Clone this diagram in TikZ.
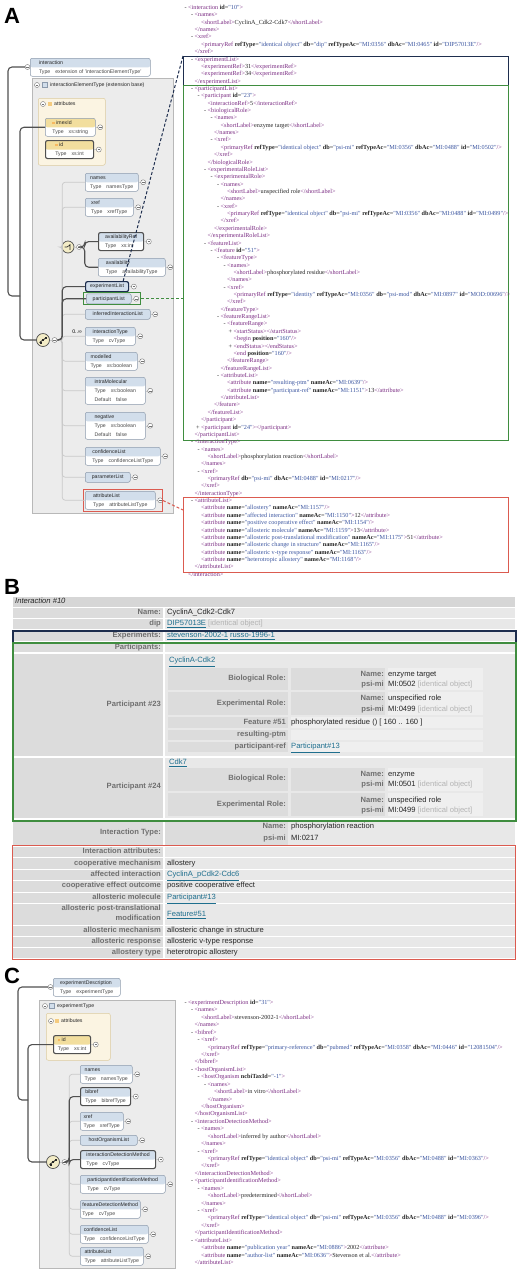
\documentclass[tikz,border=0pt]{standalone}
\usepackage{fontspec}
\setmainfont{Liberation Sans}
\newfontfamily\xmlfont{Liberation Serif}
\usetikzlibrary{positioning}
\definecolor{eline}{HTML}{8C9AAC}
\definecolor{ehead}{HTML}{D2DEEB}
\definecolor{ahead}{HTML}{F2DE9E}
\definecolor{abox}{HTML}{FBF4E2}
\definecolor{aline}{HTML}{DCCBA0}
\definecolor{cfill}{HTML}{ECECEC}
\definecolor{cline}{HTML}{B8B8B8}
\definecolor{tline}{HTML}{C9C9C9}
\definecolor{hline}{HTML}{505050}
\definecolor{cyel}{HTML}{F3ECC6}
\definecolor{tgrey}{HTML}{4A4A4A}
\definecolor{cnavy}{HTML}{1E2E4E}
\definecolor{cgreen}{HTML}{3F8D3F}
\definecolor{cred}{HTML}{DB5B50}
\definecolor{xtag}{HTML}{7B2C83}
\definecolor{xval}{HTML}{3B55A0}
\definecolor{hcell}{HTML}{D6D6D6}
\definecolor{lcell}{HTML}{DCDCDC}
\definecolor{vcell}{HTML}{E8E8E8}
\definecolor{wcell}{HTML}{EFEFEF}
\definecolor{blab}{HTML}{6F6F6F}
\definecolor{blink}{HTML}{1F6F8E}
\definecolor{bgrey}{HTML}{B3B3B3}
\definecolor{cink}{HTML}{262626}
\newcommand{\schfont}{\fontsize{5.2}{9}\selectfont}
\newcommand{\bfnt}{\fontsize{7.6}{8.4}\selectfont}
\newcommand{\hd}[1]{\rule{0pt}{4.2pt}#1}
\newcommand{\tp}[1]{\\\textcolor{tgrey}{Type\hspace{5pt}#1}\rule[-1.5pt]{0pt}{1.5pt}}
\newcommand{\df}[1]{\\\textcolor{tgrey}{Default\hspace{5pt}#1}\rule[-1.5pt]{0pt}{1.5pt}}
\newcommand{\aic}{\textcolor{ahead!60!orange}{\rule{2.4pt}{2.4pt}}\hspace{1.5pt}}
\newcommand{\tg}[1]{\textcolor{xtag}{<#1>}}
\newcommand{\tc}[1]{\textcolor{xtag}{</#1>}}
\newcommand{\tgo}[1]{\textcolor{xtag}{<#1}}
\newcommand{\tge}{\textcolor{xtag}{/>}}
\newcommand{\tgc}{\textcolor{xtag}{>}}
\newcommand{\av}[2]{ \textbf{#1}=\textcolor{xval}{"#2"}}
\newcommand{\mkm}{\llap{-\ }}
\newcommand{\mkp}{\llap{+\ }}
\newcommand{\xl}[3]{\node[xmlt] (xa#1) at ({188+6.5*#2},{8+7.36*(#1-1)}) {#3};}
\newcommand{\xc}[3]{\node[xmlt] (xc#1) at ({188+6.5*#2},{1003+7.43*(#1-1)}) {#3};}
\newcommand{\pl}[1]{\draw[tline,line width=0.5pt] (#1.east) -- ++(2,0) node[plug,anchor=west] (#1p) {};}
\newcommand{\lk}[1]{\textcolor{blink}{\underline{#1}}}
\newcommand{\io}{\textcolor{bgrey}{[identical object]}}
\newcommand{\brow}[2]{\fill[lcell] (13,#1) rectangle (163,#2); \fill[vcell] (165,#1) rectangle (515,#2);}
\tikzset{
  plab/.style={font=\bfseries\fontsize{22}{22}\selectfont,anchor=north west,inner sep=0},
  elem/.style={draw=eline,fill=white,rounded corners=2pt,anchor=north west,align=left,
    font=\schfont,text=cink,inner xsep=2.2pt,inner ysep=1.6pt,minimum height=18pt,line width=0.5pt,
    path picture={\fill[ehead] (path picture bounding box.north west) rectangle ([yshift=-9pt]path picture bounding box.north east);}},
  el1/.style={elem,fill=ehead,minimum height=10pt,path picture={}},
  attr/.style={elem,path picture={\fill[ahead] (path picture bounding box.north west) rectangle ([yshift=-9pt]path picture bounding box.north east);}},
  sel/.style={draw=hline,line width=1.1pt},
  plug/.style={circle,draw=hline!80,fill=white,minimum size=5pt,inner sep=0,line width=0.4pt,
    path picture={\draw[line width=0.4pt] ([xshift=-1.3pt]path picture bounding box.center) -- ([xshift=1.3pt]path picture bounding box.center);}},
  cont/.style={draw=cline,fill=cfill,anchor=north west,inner sep=0,line width=0.5pt},
  atbox/.style={draw=aline,fill=abox,rounded corners=2pt,anchor=north west,inner sep=0,line width=0.5pt},
  icn/.style={draw=eline,fill=ehead,minimum size=5pt,inner sep=0,line width=0.4pt},
  aicn/.style={fill=ahead!80!orange,minimum size=3.5pt,inner sep=0},
  hdtxt/.style={font=\schfont,anchor=west,inner sep=0,text=cink},
  seq/.style={circle,draw=hline,line width=0.7pt,fill=cyel,minimum size=13pt,inner sep=0,
    path picture={\draw[cink,line width=0.8pt] ([shift={(-3.5pt,-2.5pt)}]path picture bounding box.center) -- ([shift={(3.5pt,2.5pt)}]path picture bounding box.center);
      \fill[cink] ([shift={(-3.5pt,-3.5pt)}]path picture bounding box.center) rectangle ([shift={(-1.5pt,-1.5pt)}]path picture bounding box.center);
      \fill[cink] ([shift={(-1pt,-1pt)}]path picture bounding box.center) rectangle ([shift={(1pt,1pt)}]path picture bounding box.center);
      \fill[cink] ([shift={(1.5pt,1.5pt)}]path picture bounding box.center) rectangle ([shift={(3.5pt,3.5pt)}]path picture bounding box.center);}},
  choice/.style={circle,draw=hline,line width=0.7pt,fill=cyel,minimum size=12pt,inner sep=0,
    path picture={\draw[cink,line width=0.6pt] ([shift={(-3.5pt,0pt)}]path picture bounding box.center) -- ([shift={(-1pt,0pt)}]path picture bounding box.center) -- ([shift={(2pt,2pt)}]path picture bounding box.center)
      ([shift={(2pt,2.8pt)}]path picture bounding box.center) -- ([shift={(2pt,-2.8pt)}]path picture bounding box.center);}},
  tree/.style={draw=tline,line width=0.7pt,rounded corners=3pt},
  hl/.style={draw=hline,line width=1.1pt,rounded corners=4pt},
  xhl/.style={anchor=north west,inner sep=0,line width=0.9pt},
  dsh/.style={line width=1pt,dash pattern=on 3pt off 2pt},
  xmlt/.style={anchor=west,inner sep=0,font=\xmlfont\fontsize{6.2}{7}\selectfont,text=cink,text height=4.3pt,text depth=1.3pt},
  bl/.style={anchor=east,inner sep=0,font=\bfnt\bfseries,text=blab,text height=5.4pt,text depth=1.6pt},
  bv/.style={anchor=west,inner sep=0,font=\bfnt,text=cink,text height=5.4pt,text depth=1.6pt},
}
\begin{document}
\begin{tikzpicture}[x=1pt,y=-1pt]
  \useasboundingbox (0,0) rectangle (520,1275);
  \fill[white] (0,0) rectangle (520,1275);

  % ---------------- A
  \node[plab] (labA) at (4,8) {A};
  \node[xhl,draw=cnavy,minimum width=325pt,minimum height=29pt] (xExp) at (183,56) {};
  \node[xhl,draw=cgreen,minimum width=325pt,minimum height=355pt] (xPart) at (183,85) {};
  \node[xhl,draw=cred,minimum width=325pt,minimum height=75pt] (xAttr) at (183,497) {};

  \node[elem,minimum width=120pt] (interactionA) at (30,58) {\hd{interaction}\tp{extension of 'interactionElementType'}};
  \node[plug] (interactionAq) at (27.5,67) {};
  \node[cont,minimum width=141pt,minimum height=435pt] (ctA) at (32,78) {};
  \node[plug] (ctAq) at (37,85) {};
  \node[icn] (ctAi) at (45,85) {};
  \node[hdtxt] (ctAt) at (50,85) {interactionElementType (extension base)};
  \node[atbox,minimum width=67pt,minimum height=67pt] (atA) at (38,98) {};
  \node[plug] (atAq) at (43,104) {};
  \node[aicn] (atAi) at (50,104) {};
  \node[hdtxt] (atAt) at (54,104) {attributes};
  \node[attr,minimum width=50pt] (imexIdA) at (45,118) {\hd{\aic imexId}\tp{xs:string}};
  \pl{imexIdA}
  \node[attr,sel,minimum width=48pt] (idA) at (45,140) {\hd{\aic id}\tp{xs:int}};
  \pl{idA}

  \node[elem,minimum width=53pt] (namesA) at (85,173) {\hd{names}\tp{namesType}};
  \node[elem,minimum width=48pt] (xrefA) at (85,198) {\hd{xref}\tp{xrefType}};
  \node[choice] (chA) at (68,247) {};
  \node[elem,sel,minimum width=45pt] (avRefA) at (98,232) {\hd{availabilityRef}\tp{xs:int}};
  \node[elem,minimum width=67pt] (avA) at (98,258) {\hd{availability}\tp{availabilityType}};
  \node[el1,draw=cnavy,line width=1.2pt,minimum width=43pt] (expListA) at (85,281) {\hd{experimentList}\rule[-1.5pt]{0pt}{1.5pt}};
  \node[el1,minimum width=45pt] (partListA) at (86,293.5) {\hd{participantList}\rule[-1.5pt]{0pt}{1.5pt}};
  \node[el1,minimum width=65pt] (infListA) at (85,309) {\hd{inferredInteractionList}\rule[-1.5pt]{0pt}{1.5pt}};
  \node[seq] (seqA) at (43,340) {};
  \node[elem,minimum width=50pt] (itypeA) at (85,327) {\hd{interactionType}\tp{cvType}};
  \node[font=\schfont,anchor=east,inner sep=0] (cardA) at (82,332) {0..∞};
  \node[elem,minimum width=52pt] (modA) at (85,352) {\hd{modelled}\tp{xs:boolean}};
  \node[elem,minimum width=60pt,minimum height=27pt] (intraA) at (85,377) {\hd{intraMolecular}\tp{xs:boolean}\df{false}};
  \node[elem,minimum width=60pt,minimum height=27pt] (negA) at (85,412) {\hd{negative}\tp{xs:boolean}\df{false}};
  \node[elem,minimum width=75pt] (confA) at (85,447) {\hd{confidenceList}\tp{confidenceListType}};
  \node[el1,minimum width=45pt] (parA) at (85,472) {\hd{parameterList}\rule[-1.5pt]{0pt}{1.5pt}};
  \node[elem,minimum width=70pt] (attrA) at (85,491) {\hd{attributeList}\tp{attributeListType}};
  \foreach \n in {namesA,xrefA,avRefA,avA,expListA,partListA,infListA,seqA,chA,itypeA,modA,intraA,negA,confA,parA,attrA} {\pl{\n}}
  \node[xhl,draw=cgreen,line width=1pt,minimum width=57pt,minimum height=12pt] (partHL) at (83,292) {};
  \node[xhl,draw=cred,line width=1pt,minimum width=79pt,minimum height=22pt] (attrHL) at (83,489) {};

  \foreach \n in {namesA,xrefA,chA,infListA,itypeA,modA,intraA,negA,confA,parA,attrA}
    \draw[tree] (seqAp.east) -- ++(5,0) |- (\n.west);
  \coordinate (jA) at (20,296);
  \draw[hl] (interactionAq.west) -| (8,296) -- (jA);
  \draw[hl] (imexIdA.west) -| (jA) |- (seqA.west);
  \draw[hl] (seqAp.east) -- ++(5,0) |- (expListA.west);
  \draw[hl] (seqAp.east) -- ++(5,0) |- (partListA.west);
  \draw[hl] (chAp.east) -- ++(3,0) |- (avRefA.west);
  \draw[hl] (chAp.east) -- ++(3,0) |- (avA.west);

  \draw[cnavy,dsh] (xExp.north west) -- ([xshift=-6pt]expListA.north east);
  \draw[cgreen,dsh] (partHL.east) -- (partHL.east -| xPart.west);
  \draw[cred,dsh] (attrHL.east) -- ([yshift=-13pt]xAttr.north west);

  \xl{1}{0}{\mkm\tgo{interaction}\av{id}{10}\tgc}
  \xl{2}{1}{\mkm\tg{names}}
  \xl{3}{2}{\tg{shortLabel}CyclinA\_Cdk2-Cdk7\tc{shortLabel}}
  \xl{4}{1}{\tc{names}}
  \xl{5}{1}{\mkm\tg{xref}}
  \xl{6}{2}{\tgo{primaryRef}\av{refType}{identical object}\av{db}{dip}\av{refTypeAc}{MI:0356}\av{dbAc}{MI:0465}\av{id}{DIP57013E}\tge}
  \xl{7}{1}{\tc{xref}}
  \xl{8}{1}{\mkm\tg{experimentList}}
  \xl{9}{2}{\tg{experimentRef}31\tc{experimentRef}}
  \xl{10}{2}{\tg{experimentRef}34\tc{experimentRef}}
  \xl{11}{1}{\tc{experimentList}}
  \xl{12}{1}{\mkm\tg{participantList}}
  \xl{13}{2}{\mkm\tgo{participant}\av{id}{23}\tgc}
  \xl{14}{3}{\tg{interactionRef}5\tc{interactionRef}}
  \xl{15}{3}{\mkm\tg{biologicalRole}}
  \xl{16}{4}{\mkm\tg{names}}
  \xl{17}{5}{\tg{shortLabel}enzyme target\tc{shortLabel}}
  \xl{18}{4}{\tc{names}}
  \xl{19}{4}{\mkm\tg{xref}}
  \xl{20}{5}{\tgo{primaryRef}\av{refType}{identical object}\av{db}{psi-mi}\av{refTypeAc}{MI:0356}\av{dbAc}{MI:0488}\av{id}{MI:0502}\tge}
  \xl{21}{4}{\tc{xref}}
  \xl{22}{3}{\tc{biologicalRole}}
  \xl{23}{3}{\mkm\tg{experimentalRoleList}}
  \xl{24}{4}{\mkm\tg{experimentalRole}}
  \xl{25}{5}{\mkm\tg{names}}
  \xl{26}{6}{\tg{shortLabel}unspecified role\tc{shortLabel}}
  \xl{27}{5}{\tc{names}}
  \xl{28}{5}{\mkm\tg{xref}}
  \xl{29}{6}{\tgo{primaryRef}\av{refType}{identical object}\av{db}{psi-mi}\av{refTypeAc}{MI:0356}\av{dbAc}{MI:0488}\av{id}{MI:0499}\tge}
  \xl{30}{5}{\tc{xref}}
  \xl{31}{4}{\tc{experimentalRole}}
  \xl{32}{3}{\tc{experimentalRoleList}}
  \xl{33}{3}{\mkm\tg{featureList}}
  \xl{34}{4}{\mkm\tgo{feature}\av{id}{51}\tgc}
  \xl{35}{5}{\mkm\tg{featureType}}
  \xl{36}{6}{\mkm\tg{names}}
  \xl{37}{7}{\tg{shortLabel}phosphorylated residue\tc{shortLabel}}
  \xl{38}{6}{\tc{names}}
  \xl{39}{6}{\mkm\tg{xref}}
  \xl{40}{7}{\tgo{primaryRef}\av{refType}{identity}\av{refTypeAc}{MI:0356}\av{db}{psi-mod}\av{dbAc}{MI:0897}\av{id}{MOD:00696}\tge}
  \xl{41}{6}{\tc{xref}}
  \xl{42}{5}{\tc{featureType}}
  \xl{43}{5}{\mkm\tg{featureRangeList}}
  \xl{44}{6}{\mkm\tg{featureRange}}
  \xl{45}{7}{\mkp\tg{startStatus}\tc{startStatus}}
  \xl{46}{7}{\tgo{begin}\av{position}{160}\tge}
  \xl{47}{7}{\mkp\tg{endStatus}\tc{endStatus}}
  \xl{48}{7}{\tgo{end}\av{position}{160}\tge}
  \xl{49}{6}{\tc{featureRange}}
  \xl{50}{5}{\tc{featureRangeList}}
  \xl{51}{5}{\mkm\tg{attributeList}}
  \xl{52}{6}{\tgo{attribute}\av{name}{resulting-ptm}\av{nameAc}{MI:0639}\tge}
  \xl{53}{6}{\tgo{attribute}\av{name}{participant-ref}\av{nameAc}{MI:1151}\tgc13\tc{attribute}}
  \xl{54}{5}{\tc{attributeList}}
  \xl{55}{4}{\tc{feature}}
  \xl{56}{3}{\tc{featureList}}
  \xl{57}{2}{\tc{participant}}
  \xl{58}{2}{\mkp\tgo{participant}\av{id}{24}\tgc\tc{participant}}
  \xl{59}{1}{\tc{participantList}}
  \xl{60}{1}{\mkm\tg{interactionType}}
  \xl{61}{2}{\mkm\tg{names}}
  \xl{62}{3}{\tg{shortLabel}phosphorylation reaction\tc{shortLabel}}
  \xl{63}{2}{\tc{names}}
  \xl{64}{2}{\mkm\tg{xref}}
  \xl{65}{3}{\tgo{primaryRef}\av{db}{psi-mi}\av{dbAc}{MI:0488}\av{id}{MI:0217}\tge}
  \xl{66}{2}{\tc{xref}}
  \xl{67}{1}{\tc{interactionType}}
  \xl{68}{1}{\mkm\tg{attributeList}}
  \xl{69}{2}{\tgo{attribute}\av{name}{allostery}\av{nameAc}{MI:1157}\tge}
  \xl{70}{2}{\tgo{attribute}\av{name}{affected interaction}\av{nameAc}{MI:1150}\tgc12\tc{attribute}}
  \xl{71}{2}{\tgo{attribute}\av{name}{positive cooperative effect}\av{nameAc}{MI:1154}\tge}
  \xl{72}{2}{\tgo{attribute}\av{name}{allosteric molecule}\av{nameAc}{MI:1159}\tgc13\tc{attribute}}
  \xl{73}{2}{\tgo{attribute}\av{name}{allosteric post-translational modification}\av{nameAc}{MI:1175}\tgc51\tc{attribute}}
  \xl{74}{2}{\tgo{attribute}\av{name}{allosteric change in structure}\av{nameAc}{MI:1165}\tge}
  \xl{75}{2}{\tgo{attribute}\av{name}{allosteric v-type response}\av{nameAc}{MI:1163}\tge}
  \xl{76}{2}{\tgo{attribute}\av{name}{heterotropic allostery}\av{nameAc}{MI:1168}\tge}
  \xl{77}{1}{\tc{attributeList}}
  \xl{78}{0}{\tc{interaction}}

  % ---------------- B
  \node[plab] (labB) at (4,579) {B};
  \fill[hcell] (13,597) rectangle (515,607);
  \brow{608}{618} \brow{619}{629} \brow{631}{641} \brow{643}{652}
  \brow{654}{756} \brow{758}{818} \brow{822}{845}
  \brow{847}{857} \brow{858}{869} \brow{870}{880} \brow{881}{892} \brow{893}{903}
  \brow{904}{925} \brow{926}{936} \brow{937}{947} \brow{948}{958}
  \foreach \a/\b in {668/690,692/715,768/791,793/816} {
    \fill[lcell] (168,\a) rectangle (288,\b);
    \fill[lcell] (291,\a) rectangle (385,\b);
    \fill[wcell] (388,\a) rectangle (483,\b);}
  \foreach \a/\b in {717/728,730/740,742/752} {
    \fill[lcell] (168,\a) rectangle (288,\b);
    \fill[wcell] (291,\a) rectangle (483,\b);}
  \fill[lcell] (165,822) rectangle (288,845);

  \node[bv,font=\bfnt\itshape] (b0) at (15,602) {Interaction \#10};
  \node[bl] (b1) at (161,613) {Name:};
  \node[bv] (b1v) at (167,613) {CyclinA\_Cdk2-Cdk7};
  \node[bl] (b2) at (161,624) {dip};
  \node[bv] (b2v) at (167,624) {\lk{DIP57013E} \io};
  \node[bl] (b3) at (161,636) {Experiments:};
  \node[bv] (b3v) at (167,636) {\lk{stevenson-2002-1} \lk{russo-1996-1}};
  \node[bl] (b4) at (161,648) {Participants:};
  \node[bl] (b5) at (161,705) {Participant \#23};
  \node[bv] (b5v) at (169,661) {\lk{CyclinA-Cdk2}};
  \node[bl] (b6) at (286,679) {Biological Role:};
  \node[bl] (b6a) at (384,675) {Name:};
  \node[bv] (b6b) at (388,675) {enzyme target};
  \node[bl] (b6c) at (384,685) {psi-mi};
  \node[bv] (b6d) at (388,685) {MI:0502 \io};
  \node[bl] (b7) at (286,704) {Experimental Role:};
  \node[bl] (b7a) at (384,699) {Name:};
  \node[bv] (b7b) at (388,699) {unspecified role};
  \node[bl] (b7c) at (384,710) {psi-mi};
  \node[bv] (b7d) at (388,710) {MI:0499 \io};
  \node[bl] (b8) at (286,723) {Feature \#51};
  \node[bv] (b8v) at (291,723) {phosphorylated residue () [ 160 .. 160 ]};
  \node[bl] (b9) at (286,735) {resulting-ptm};
  \node[bl] (b10) at (286,747) {participant-ref};
  \node[bv] (b10v) at (291,747) {\lk{Participant\#13}};
  \node[bl] (b11) at (161,787) {Participant \#24};
  \node[bv] (b11v) at (169,763) {\lk{Cdk7}};
  \node[bl] (b12) at (286,779) {Biological Role:};
  \node[bl] (b12a) at (384,775) {Name:};
  \node[bv] (b12b) at (388,775) {enzyme};
  \node[bl] (b12c) at (384,785) {psi-mi};
  \node[bv] (b12d) at (388,785) {MI:0501 \io};
  \node[bl] (b13) at (286,805) {Experimental Role:};
  \node[bl] (b13a) at (384,801) {Name:};
  \node[bv] (b13b) at (388,801) {unspecified role};
  \node[bl] (b13c) at (384,811) {psi-mi};
  \node[bv] (b13d) at (388,811) {MI:0499 \io};
  \node[bl] (b14) at (161,833) {Interaction Type:};
  \node[bl] (b14a) at (286,827) {Name:};
  \node[bv] (b14b) at (291,827) {phosphorylation reaction};
  \node[bl] (b14c) at (286,839) {psi-mi};
  \node[bv] (b14d) at (291,839) {MI:0217};
  \node[bl] (b15) at (161,852) {Interaction attributes:};
  \node[bl] (b16) at (161,864) {cooperative mechanism};
  \node[bv] (b16v) at (167,864) {allostery};
  \node[bl] (b17) at (161,875) {affected interaction};
  \node[bv] (b17v) at (167,875) {\lk{CyclinA\_pCdk2-Cdc6}};
  \node[bl] (b18) at (161,886) {cooperative effect outcome};
  \node[bv] (b18v) at (167,886) {positive cooperative effect};
  \node[bl] (b19) at (161,898) {allosteric molecule};
  \node[bv] (b19v) at (167,898) {\lk{Participant\#13}};
  \node[bl] (b20) at (161,909) {allosteric post-translational};
  \node[bl] (b20b) at (161,919) {modification};
  \node[bv] (b20v) at (167,915) {\lk{Feature\#51}};
  \node[bl] (b21) at (161,931) {allosteric mechanism};
  \node[bv] (b21v) at (167,931) {allosteric change in structure};
  \node[bl] (b22) at (161,942) {allosteric response};
  \node[bv] (b22v) at (167,942) {allosteric v-type response};
  \node[bl] (b23) at (161,953) {allostery type};
  \node[bv] (b23v) at (167,953) {heterotropic allostery};

  \node[xhl,draw=cnavy,line width=1.5pt,minimum width=503pt,minimum height=12pt] (bExp) at (12,630) {};
  \node[xhl,draw=cgreen,line width=1.5pt,minimum width=503pt,minimum height=178pt] (bPart) at (12,642) {};
  \node[xhl,draw=cred,line width=1.3pt,minimum width=503pt,minimum height=114pt] (bAttr) at (12,845) {};

  % ---------------- C
  \node[plab] (labC) at (4,968) {C};
  \node[elem,minimum width=67pt] (expDescC) at (53,978) {\hd{experimentDescription}\tp{experimentType}};
  \node[plug] (expDescCq) at (50.5,987) {};
  \node[cont,minimum width=136pt,minimum height=268pt] (ctC) at (39,1000) {};
  \node[plug] (ctCq) at (45,1006) {};
  \node[icn] (ctCi) at (52,1006) {};
  \node[hdtxt] (ctCt) at (57,1006) {experimentType};
  \node[atbox,minimum width=64pt,minimum height=47pt] (atC) at (46,1013) {};
  \node[plug] (atCq) at (51,1021) {};
  \node[aicn] (atCi) at (57,1021) {};
  \node[hdtxt] (atCt) at (61,1021) {attributes};
  \node[attr,sel,minimum width=37pt] (idC) at (53,1035) {\hd{\aic id}\tp{xs:int}};
  \pl{idC}
  \node[elem,minimum width=52pt] (namesC) at (80,1065) {\hd{names}\tp{namesType}};
  \node[elem,sel,minimum width=50pt] (bibrefC) at (80,1087) {\hd{bibref}\tp{bibrefType}};
  \node[elem,minimum width=43pt] (xrefC) at (80,1112) {\hd{xref}\tp{xrefType}};
  \node[el1,minimum width=57pt] (hostC) at (80,1135) {\hd{hostOrganismList}\rule[-1.5pt]{0pt}{1.5pt}};
  \node[seq] (seqC) at (53,1162) {};
  \node[elem,sel,minimum width=75pt] (idmC) at (80,1150) {\hd{interactionDetectionMethod}\tp{cvType}};
  \node[elem,minimum width=85pt] (pimC) at (80,1175) {\hd{participantIdentificationMethod}\tp{cvType}};
  \node[elem,minimum width=60pt] (fdmC) at (80,1200) {\hd{featureDetectionMethod}\tp{cvType}};
  \node[elem,minimum width=68pt] (confC) at (80,1225) {\hd{confidenceList}\tp{confidenceListType}};
  \node[elem,minimum width=63pt] (attrC) at (80,1247) {\hd{attributeList}\tp{attributeListType}};
  \foreach \n in {namesC,bibrefC,xrefC,hostC,seqC,idmC,pimC,fdmC,confC,attrC} {\pl{\n}}
  \foreach \n in {namesC,xrefC,hostC,pimC,fdmC,confC,attrC}
    \draw[tree] (seqCp.east) -- ++(2,0) |- (\n.west);
  \coordinate (jC) at (28,1100);
  \draw[hl] (expDescCq.west) -| (18,1100) -- (jC);
  \draw[hl] (idC.west) -| (jC) |- (seqC.west);
  \draw[hl] (seqCp.east) -- ++(2,0) |- (bibrefC.west);
  \draw[hl] (seqCp.east) -- ++(2,0) |- (idmC.west);

  \xc{1}{0}{\mkm\tgo{experimentDescription}\av{id}{31}\tgc}
  \xc{2}{1}{\mkm\tg{names}}
  \xc{3}{2}{\tg{shortLabel}stevenson-2002-1\tc{shortLabel}}
  \xc{4}{1}{\tc{names}}
  \xc{5}{1}{\mkm\tg{bibref}}
  \xc{6}{2}{\mkm\tg{xref}}
  \xc{7}{3}{\tgo{primaryRef}\av{refType}{primary-reference}\av{db}{pubmed}\av{refTypeAc}{MI:0358}\av{dbAc}{MI:0446}\av{id}{12081504}\tge}
  \xc{8}{2}{\tc{xref}}
  \xc{9}{1}{\tc{bibref}}
  \xc{10}{1}{\mkm\tg{hostOrganismList}}
  \xc{11}{2}{\mkm\tgo{hostOrganism}\av{ncbiTaxId}{-1}\tgc}
  \xc{12}{3}{\mkm\tg{names}}
  \xc{13}{4}{\tg{shortLabel}in vitro\tc{shortLabel}}
  \xc{14}{3}{\tc{names}}
  \xc{15}{2}{\tc{hostOrganism}}
  \xc{16}{1}{\tc{hostOrganismList}}
  \xc{17}{1}{\mkm\tg{interactionDetectionMethod}}
  \xc{18}{2}{\mkm\tg{names}}
  \xc{19}{3}{\tg{shortLabel}inferred by author\tc{shortLabel}}
  \xc{20}{2}{\tc{names}}
  \xc{21}{2}{\mkm\tg{xref}}
  \xc{22}{3}{\tgo{primaryRef}\av{refType}{identical object}\av{db}{psi-mi}\av{refTypeAc}{MI:0356}\av{dbAc}{MI:0488}\av{id}{MI:0363}\tge}
  \xc{23}{2}{\tc{xref}}
  \xc{24}{1}{\tc{interactionDetectionMethod}}
  \xc{25}{1}{\mkm\tg{participantIdentificationMethod}}
  \xc{26}{2}{\mkm\tg{names}}
  \xc{27}{3}{\tg{shortLabel}predetermined\tc{shortLabel}}
  \xc{28}{2}{\tc{names}}
  \xc{29}{2}{\mkm\tg{xref}}
  \xc{30}{3}{\tgo{primaryRef}\av{refType}{identical object}\av{db}{psi-mi}\av{refTypeAc}{MI:0356}\av{dbAc}{MI:0488}\av{id}{MI:0396}\tge}
  \xc{31}{2}{\tc{xref}}
  \xc{32}{1}{\tc{participantIdentificationMethod}}
  \xc{33}{1}{\mkm\tg{attributeList}}
  \xc{34}{2}{\tgo{attribute}\av{name}{publication year}\av{nameAc}{MI:0886}\tgc2002\tc{attribute}}
  \xc{35}{2}{\tgo{attribute}\av{name}{author-list}\av{nameAc}{MI:0636}\tgc{}Stevenson et al.\tc{attribute}}
  \xc{36}{1}{\tc{attributeList}}
\end{tikzpicture}
\end{document}
